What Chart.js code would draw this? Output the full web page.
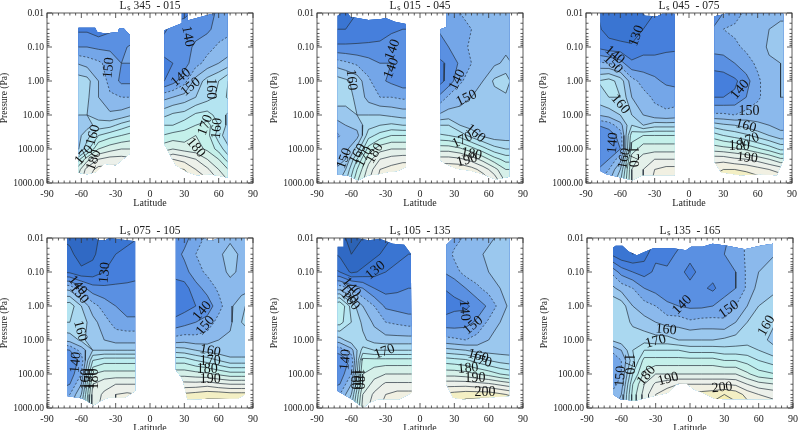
<!DOCTYPE html>
<html>
<head>
<meta charset="utf-8">
<title>Temperature sections</title>
<script src="https://cdn.jsdelivr.net/npm/chart.js@4"></script>
<style>
  html, body { margin: 0; background: #fff; overflow: hidden; width: 800px; height: 430px; }
  canvas { position: absolute; }
</style>
</head>
<body>
<script>
// shared axes
const pressures = [0.01, 0.03, 0.1, 0.3, 1, 3, 10, 20, 40, 100, 200, 400, 1000];
const latTicks = [-90, -60, -30, 0, 30, 60, 90];
const pressureTicks = [0.01, 0.1, 1, 10, 100, 1000];
const levels = [120, 125, 130, 135, 140, 145, 150, 155, 160, 165, 170, 175, 180, 185, 190, 195, 200, 205];
const bandColors = ['#2c63b6', '#3069c4', '#3a75d2', '#467fdc', '#5a90e2', '#74a6e8', '#8bb9ec', '#9bc8ee', '#aad8f0', '#b4e4f1', '#bcedf0', '#c4f0ea', '#d6f0e9', '#e4f0ea', '#ecf0ea', '#f1f0e2', '#f3efc4', '#f5eeb0', '#f6eea0'];

// L 345 - 015
const lats1S = [-65, -55, -45, -35, -25, -15];
const temps1S = [
  [132,134,140,150,158,160,155,150,152,152,165,175,180],
  [132,134,140,148,157,156,155,153,158,163,178,187,190],
  [132,132,139,146,150,150,153,157,165,175,185,192,195],
  [132,134,139,143,143,146,151,158,168,178,187,192,195],
  [132,136,139,140,139,145,152,162,170,180,187,192,195],
  [132,136,141,140,139,145,155,165,172,180,186,190,192]
];
const edge1S = [[-62.5,.027],[-48,.027],[-46,.036],[-39,.04],[-28,.036],[-27,.028],[-23,.028],[-17.5,.044],[-17.5,135],[-30,302],[-40,270],[-47,473],[-55,550],[-62.5,500]];
const lats1N = [10, 20, 30, 40, 50, 60, 70];
const temps1N = [
  [134,134,136,134,134,148,158,165,170,178,186,192,196],
  [134,136,136,135,138,150,161,165,172,180,190,196,200],
  [134,137,138,138,143,152,162,168,172,178,188,195,200],
  [136,138,141,143,152,155,166,170,175,177,185,190,195],
  [138,139,143,147,157,158,167,172,172,174,180,186,192],
  [141,142,146,150,160,161,163,165,162,168,175,180,186],
  [142,144,147,153,166,167,158,157,156,160,166,174,180]
];
const edge1N = [[12.6,.032],[27.8,.02],[27.8,.01],[32.7,.01],[32.7,.0165],[57,.01],[67.6,.01],[67.6,690],[52.7,550],[41.3,590],[32.7,480],[22.6,300],[18.3,170],[12.6,72]];
const tags1 = [['150',-36,.41,-85],['160',-49.6,39,-75],['170',-57.6,150,-50],['180',-49,214,-70],['140',33,.049,80],['140',27,.78,-40],['150',35.5,1.5,-40],['160',52.7,1.7,90],['170',48.4,20,-70],['160',58.5,25,-85],['180',40,91,50]];

// L 015 - 045
const lats2S = [-75, -65, -55, -45, -35, -25, -15, -10];
const temps2S = [
  [128,130,136,148,158,158,152,146,144,146,148,150,152],
  [128,130,136,146,156,157,153,150,146,148,150,155,160],
  [130,131,136,144,153,154,155,152,148,157,165,170,175],
  [131,132,136,142,146,148,155,158,163,172,178,182,185],
  [132,133,136,140,141,145,155,160,167,178,185,190,192],
  [133,134,138,140,139,145,154,161,170,180,187,192,195],
  [134,135,139,139,137,144,153,160,170,180,188,194,196],
  [134,135,139,139,137,144,153,160,170,180,188,194,196]
];
const edge2S = [[-72,.012],[-68.8,.01],[-63,.01],[-61,.013],[-45,.016],[-34,.015],[-30,.014],[-22,.018],[-12.3,.021],[-12.3,340],[-19.5,445],[-28,473],[-36.7,550],[-45,590],[-54,830],[-62.5,617],[-72,560]];
const lats2N = [15, 25, 35, 45, 55, 65, 75, 80];
const temps2N = [
  [139,140,138,133,132,140,150,160,166,178,187,194,197],
  [142,142,140,136,137,146,152,160,165,178,187,194,200],
  [145,144,143,141,144,149,151,155,163,176,186,194,200],
  [145,145,146,145,148,150,151,153,158,172,183,192,198],
  [146,146,147,146,150,152,151,151,154,167,178,188,195],
  [148,147,148,149,156,153,152,150,152,162,172,182,190],
  [148,148,149,151,158,154,151,150,152,160,168,175,180],
  [148,148,149,150,154,152,151,150,152,160,168,175,180]
];
const edge2N = [[17.8,.03],[23,.026],[23,.01],[78,.01],[78,660],[66.5,790],[55,550],[43.5,426],[32,380],[22,270],[17.8,214]];
const tags2 = [['140',-24,.12,-70],['140',-25,.42,-70],['160',-60,.93,85],['150',-66,190,-70],['160',-54.4,140,-60],['170',-48.7,170,-60],['180',-39.5,135,-60],['140',32.7,.93,-65],['150',40.7,3.2,-25],['160',48.4,35,40],['170',37,55,-25],['180',45,140,10],['190',41,214,-15]];

// L 045 - 075
const lats3S = [-80, -70, -60, -50, -40, -30, -20, -10];
const temps3S = [
  [130,131,134,146,160,158,150,140,136,135,136,140,145],
  [128,128,132,145,162,160,152,142,137,137,140,145,150],
  [126,126,132,142,158,160,155,148,142,140,148,155,160],
  [125,126,131,136,147,150,155,160,168,172,178,180,180],
  [128,130,133,137,143,147,150,155,170,178,182,185,185],
  [130,131,133,137,141,144,147,158,170,178,185,190,192],
  [131,132,134,137,139,143,146,158,170,178,185,192,193],
  [132,132,134,138,138,143,147,158,170,178,185,192,193]
];
const edge3S = [[-77.4,.01],[-40.7,.01],[-38,.012],[-27.8,.0125],[-23.5,.0105],[-12.6,.0105],[-12.6,590],[-40.7,590],[-49.3,830],[-72,550],[-77.4,445]];
const lats3N = [20, 30, 40, 50, 60, 70, 80, 85];
const temps3N = [
  [137,140,142,137,132,135,146,158,168,178,188,193,197],
  [140,145,142,138,132,135,146,156,165,177,188,195,200],
  [143,146,144,140,134,136,145,155,163,176,186,195,200],
  [146,147,146,143,138,140,147,153,161,174,185,194,200],
  [147,148,147,146,144,144,148,151,158,171,183,192,199],
  [148,150,151,149,148,148,148,150,155,168,180,190,195],
  [148,152,152,150,150,150,147,148,152,164,176,188,195],
  [148,152,152,150,150,150,147,148,152,164,176,188,195]
];
const edge3N = [[22.3,.0125],[32.3,.0105],[82.4,.0105],[82.4,214],[76.7,590],[62.3,550],[45,590],[28,480],[22.3,240]];
const tags3 = [['130',-45.8,.047,-70],['140',-65,.17,40],['150',-66.5,.32,45],['160',-60,4.8,50],['140',-66.5,66,-85],['160',-56.4,190,-80],['170',-49,170,90],['140',44.4,1.8,-50],['150',52.4,7.9,0],['160',49.6,21,15],['170',52.4,55,-20],['180',43.8,83,0],['190',51,182,5]];

// L 075 - 105
const lats4S = [-80, -70, -60, -50, -40, -30, -20, -10];
const temps4S = [
  [125,127,130,150,162,160,150,138,135,135,138,142,146],
  [124,126,129,148,163,160,152,140,136,137,140,145,150],
  [122,123,126,142,155,158,156,147,142,145,150,155,160],
  [123,124,127,137,147,152,153,155,165,175,180,182,182],
  [127,128,130,136,143,147,150,155,168,177,183,186,188],
  [129,130,132,136,140,143,148,155,168,177,185,190,190],
  [129,131,133,136,136,142,148,155,168,177,185,191,192],
  [130,131,134,136,136,142,148,155,168,177,185,190,191]
];
const edge4S = [[-72.5,.01],[-47.6,.01],[-45,.0117],[-39,.0117],[-36,.01],[-13,.0125],[-13,316],[-21.8,490],[-36,490],[-43,617],[-49,830],[-59,525],[-72.5,445]];
const lats4N = [20, 30, 40, 50, 60, 70, 80, 85];
const temps4N = [
  [135,137,137,132,132,136,147,158,168,178,187,195,198],
  [138,141,138,133,133,138,148,157,168,178,187,196,200],
  [143,145,143,138,135,140,147,155,165,177,187,197,203],
  [146,147,146,142,137,142,148,153,163,176,188,198,204],
  [148,149,148,146,143,147,150,152,160,174,186,198,204],
  [149,152,151,148,149,149,151,151,157,172,185,197,205],
  [148,149,149,148,153,155,151,151,157,172,185,197,203],
  [148,149,149,148,156,157,151,151,157,172,185,197,203]
];
const edge4N = [[22.6,.01],[47,.01],[51,.0117],[55.6,.0117],[60,.01],[83,.01],[83,400],[77,525],[32.7,550],[28.4,140],[22.6,76]];
const tags4 = [['130',-39.5,.105,-85],['140',-63.3,.25,50],['150',-62,.44,50],['160',-61,5.4,75],['140',-64.8,46,-85],['160',-55.6,140,-90],['170',-52,140,-90],['180',-49,140,-90],['140',45.6,1.4,-50],['150',48.4,3.8,-50],['160',52.7,21,10],['170',52.7,41,0],['180',50,72,0],['190',52.7,141,0]];

// L 105 - 135
const lats5S = [-80, -70, -60, -50, -40, -30, -20, -10, -5];
const temps5S = [
  [125,127,132,148,168,168,150,140,135,135,138,142,146],
  [122,124,130,148,170,167,153,142,137,137,140,145,150],
  [118,120,124,144,158,160,158,148,141,145,150,155,160],
  [120,122,126,140,150,154,156,162,172,175,176,180,182],
  [122,124,128,135,145,149,153,160,172,178,182,186,188],
  [124,126,130,133,139,145,152,160,172,180,186,190,192],
  [126,128,132,134,138,144,152,160,172,180,186,192,195],
  [128,130,133,135,137,143,152,160,172,180,186,192,195],
  [128,130,133,135,137,143,152,160,172,180,186,192,195]
];
const edge5S = [[-72,.018],[-66.8,.018],[-66.8,.01],[-54,.01],[-45,.0117],[-35,.0105],[-23.8,.0147],[-13.8,.0157],[-8,.029],[-7.2,355],[-18,550],[-36.7,550],[-44,690],[-49.6,980],[-59.6,550],[-72,316]];
const lats5N = [20, 30, 40, 50, 60, 70, 80];
const temps5N = [
  [138,141,140,135,132,137,147,157,168,178,188,196,200],
  [143,146,143,136,134,137,146,156,167,178,188,197,202],
  [146,148,147,140,134,138,145,155,166,177,188,198,204],
  [147,149,148,144,137,141,147,153,163,175,187,198,205],
  [149,151,150,147,141,146,150,153,160,173,186,198,205],
  [151,152,152,150,147,150,152,153,158,170,184,196,204],
  [152,152,152,152,152,152,152,153,157,168,182,194,202]
];
const edge5N = [[23,.016],[28.6,.0105],[78,.01],[78,445],[37.8,550],[29,500],[23,200]];
const tags5 = [['130',-39,.09,-40],['140',-60,.28,50],['150',-62,.44,50],['160',-61,.69,50],['140',-65,38,-85],['160',-57,141,90],['180',-54,141,90],['170',-31,22,-20],['140',38.7,1.35,85],['150',46.4,3.7,-40],['160',50.7,30,15],['170',53.6,41,15],['180',42,68,-5],['190',48,135,0],['200',56.7,355,0]];

// L 135 - 165
const lats6 = [-70, -60, -50, -40, -30, -20, -10, 0, 10, 20, 30, 40, 50, 60, 75];
const temps6 = [
  [128,130,145,152,160,160,155,145,142,140,142,145,148],
  [125,126,138,148,158,158,158,150,145,145,147,150,152],
  [124,125,135,145,150,154,158,160,158,165,170,172,172],
  [128,128,133,140,147,152,158,165,172,176,180,182,182],
  [130,134,136,138,145,150,157,165,172,180,186,190,190],
  [132,133,136,137,141,148,157,165,172,180,188,193,193],
  [133,136,136,136,140,148,155,165,172,180,190,195,197],
  [136,136,134,136,139,146,155,163,172,180,190,196,198],
  [136,136,136,136,139,147,155,163,172,180,190,197,199],
  [136,137,137,134,140,147,155,163,172,180,190,198,202],
  [139,140,139,138,142,146,156,162,170,180,190,200,203],
  [142,142,140,140,145,150,157,162,170,180,189,198,202],
  [146,146,146,146,150,155,158,162,168,176,185,193,198],
  [148,148,150,152,155,157,157,160,165,172,182,190,195],
  [148,150,152,154,158,155,153,156,162,170,180,188,193]
];
const edge6 = [[-67.3,.0195],[-65,.017],[-59,.017],[-53.6,.025],[-46.4,.032],[-39,.025],[-32,.02],[-15,.02],[-3.4,.023],[1,.018],[11,.018],[19.5,.0148],[31,.0165],[48,.0215],[62.5,.0165],[72.5,.0148],[72.5,550],[22.3,540],[11,355],[3.7,285],[-3.4,190],[-12,200],[-19,355],[-38,500],[-48,617],[-60.7,550],[-67.3,400]];
const tags6 = [['140',-6.9,.93,-45],['150',33.8,1.26,-35],['160',66.8,3.8,-60],['160',-21,5,5],['170',-30,11,-15],['180',-38,112,-50],['190',-19,141,-15],['200',28,251,-5],['150',-60.7,117,-85],['170',-53.6,51,90]];

const panels = [
  { title: 'Lₛ 345  - 015', left: 0, top: 0, parts: [[lats1S, temps1S, edge1S], [lats1N, temps1N, edge1N]], tags: tags1 },
  { title: 'Lₛ 015  - 045', left: 270, top: 0, parts: [[lats2S, temps2S, edge2S], [lats2N, temps2N, edge2N]], tags: tags2 },
  { title: 'Lₛ 045  - 075', left: 539, top: 0, parts: [[lats3S, temps3S, edge3S], [lats3N, temps3N, edge3N]], tags: tags3 },
  { title: 'Lₛ 075  - 105', left: 0, top: 225, parts: [[lats4S, temps4S, edge4S], [lats4N, temps4N, edge4N]], tags: tags4 },
  { title: 'Lₛ 105  - 135', left: 270, top: 225, parts: [[lats5S, temps5S, edge5S], [lats5N, temps5N, edge5N]], tags: tags5 },
  { title: 'Lₛ 135  - 165', left: 540, top: 225, parts: [[lats6, temps6, edge6]], tags: tags6 }
];

const SERIF = '"Liberation Serif", serif';
const logP = pressures.map(p => Math.log10(p));

// where a level crosses between two grid corners
function crossing(a, b, level) {
  const t = (level - a.t) / (b.t - a.t);
  return { x: a.x + (b.x - a.x) * t, y: a.y + (b.y - a.y) * t };
}

function gridCells(lats, temps) {
  const cells = [];
  for (let i = 0; i < lats.length - 1; i++) {
    for (let j = 0; j < logP.length - 1; j++) {
      const c = (a, b) => ({ x: lats[a], y: logP[b], t: temps[a][b], key: a + '_' + b });
      cells.push([c(i, j), c(i + 1, j), c(i + 1, j + 1), c(i, j + 1)]);
    }
  }
  return cells;
}

// contour polylines for one level, chained so dashes run along the line
function contourLines(lats, temps, level) {
  const segs = [];
  gridCells(lats, temps).forEach(cell => {
    const pts = [];
    for (let k = 0; k < 4; k++) {
      const a = cell[k], b = cell[(k + 1) % 4];
      if ((a.t >= level) !== (b.t >= level)) {
        const p = crossing(a, b, level);
        p.key = [a.key, b.key].sort().join('|');
        pts.push(p);
      }
    }
    if (pts.length === 2) segs.push([pts[0], pts[1]]);
    if (pts.length === 4) { segs.push([pts[0], pts[1]]); segs.push([pts[2], pts[3]]); }
  });
  const byKey = {};
  segs.forEach(s => s.forEach(p => { (byKey[p.key] = byKey[p.key] || []).push(s); }));
  const lines = [];
  const used = new Set();
  // open ends first, then the closed loops
  const starts = segs.filter(s => byKey[s[0].key].length === 1).concat(segs.filter(s => byKey[s[1].key].length === 1).map(s => [s[1], s[0], s])).concat(segs);
  starts.forEach(item => {
    const first = item[2] || item;
    if (used.has(first)) return;
    used.add(first);
    const line = [item[0], item[1]];
    while (true) {
      const last = line[line.length - 1];
      const next = byKey[last.key].find(s => !used.has(s));
      if (!next) break;
      used.add(next);
      line.push(next[0].key === last.key ? next[1] : next[0]);
    }
    lines.push(line);
  });
  return lines;
}

function buildDatasets(panel) {
  const sets = [];
  levels.forEach(level => {
    const data = [];
    panel.parts.forEach(part => {
      contourLines(part[0], part[1], level).forEach(line => {
        line.forEach(p => data.push({ x: p.x, y: Math.pow(10, p.y) }));
        data.push({ x: null, y: null });
      });
    });
    sets.push({
      label: String(level),
      data: data,
      showLine: true,
      pointRadius: 0,
      borderWidth: 0.7,
      borderColor: '#26323e',
      borderDash: level === 145 ? [2, 2] : [],
      spanGaps: false
    });
  });
  return sets;
}

// filled bands, clipped to the area that has data
const bandPlugin = {
  id: 'bands',
  beforeDatasetsDraw(chart, args, opts) {
    const ctx = chart.ctx;
    const sx = chart.scales.x, sy = chart.scales.y;
    const px = p => [sx.getPixelForValue(p.x), sy.getPixelForValue(Math.pow(10, p.y))];
    ctx.save();
    ctx.beginPath();
    opts.panel.parts.forEach(part => {
      part[2].forEach((pt, i) => {
        const x = sx.getPixelForValue(pt[0]), y = sy.getPixelForValue(pt[1]);
        if (i === 0) ctx.moveTo(x, y); else ctx.lineTo(x, y);
      });
      ctx.closePath();
    });
    ctx.clip();
    opts.panel.parts.forEach(part => {
      const cells = gridCells(part[0], part[1]);
      [0].concat(levels).forEach((level, n) => {
        ctx.beginPath();
        cells.forEach(cell => {
          const poly = [];
          for (let k = 0; k < 4; k++) {
            const a = cell[k], b = cell[(k + 1) % 4];
            if (a.t >= level) poly.push(a);
            if ((a.t >= level) !== (b.t >= level)) poly.push(crossing(a, b, level));
          }
          poly.forEach((p, i) => {
            const q = px(p);
            if (i === 0) ctx.moveTo(q[0], q[1]); else ctx.lineTo(q[0], q[1]);
          });
          if (poly.length) ctx.closePath();
        });
        ctx.fillStyle = bandColors[n];
        ctx.fill();
      });
    });
  },
  afterDatasetsDraw(chart, args, opts) {
    const ctx = chart.ctx;
    ctx.restore();
    const sx = chart.scales.x, sy = chart.scales.y;
    ctx.save();
    ctx.fillStyle = '#111';
    ctx.font = '14px ' + SERIF;
    ctx.textAlign = 'center';
    ctx.textBaseline = 'middle';
    opts.panel.tags.forEach(tag => {
      ctx.save();
      ctx.translate(sx.getPixelForValue(tag[1]), sy.getPixelForValue(tag[2]));
      ctx.rotate(tag[3] * Math.PI / 180);
      ctx.fillText(tag[0], 0, 0);
      ctx.restore();
    });
    ctx.restore();
  }
};

// frame with inward ticks on all four sides
const framePlugin = {
  id: 'frame',
  afterDraw(chart) {
    const ctx = chart.ctx, a = chart.chartArea;
    const sx = chart.scales.x, sy = chart.scales.y;
    ctx.save();
    ctx.strokeStyle = '#333';
    ctx.lineWidth = 0.8;
    ctx.strokeRect(a.left, a.top, a.right - a.left, a.bottom - a.top);
    ctx.beginPath();
    for (let lat = -90; lat <= 90; lat += 5) {
      const x = sx.getPixelForValue(lat);
      const len = lat % 30 === 0 ? 5 : 2.5;
      ctx.moveTo(x, a.bottom); ctx.lineTo(x, a.bottom - len);
      ctx.moveTo(x, a.top); ctx.lineTo(x, a.top + len);
    }
    for (let e = -2; e <= 3; e++) {
      for (let m = 1; m <= 9; m++) {
        if (e === 3 && m > 1) break;
        const y = sy.getPixelForValue(m * Math.pow(10, e));
        const len = m === 1 ? 5 : 2.5;
        ctx.moveTo(a.left, y); ctx.lineTo(a.left + len, y);
        ctx.moveTo(a.right, y); ctx.lineTo(a.right - len, y);
      }
    }
    ctx.stroke();
    ctx.restore();
  }
};

panels.forEach(panel => {
  const canvas = document.createElement('canvas');
  canvas.width = 263;
  canvas.height = 208;
  canvas.style.left = panel.left + 'px';
  canvas.style.top = panel.top + 'px';
  document.body.appendChild(canvas);

  new Chart(canvas.getContext('2d'), {
    type: 'scatter',
    data: { datasets: buildDatasets(panel) },
    plugins: [bandPlugin, framePlugin],
    options: {
      responsive: false,
      animation: false,
      events: [],
      layout: { padding: { left: 0, right: 6, top: 0, bottom: 0 } },
      plugins: {
        legend: { display: false },
        tooltip: { enabled: false },
        title: {
          display: true,
          fullSize: false,
          text: panel.title,
          color: '#222',
          font: { family: SERIF, size: 11.5, weight: 'normal', lineHeight: 1 },
          padding: { top: 0, bottom: 1.5 }
        },
        bands: { panel: panel }
      },
      scales: {
        x: {
          type: 'linear',
          min: -90,
          max: 90,
          afterFit(s) { s.height = 25; },
          grid: { display: false, drawTicks: false },
          border: { display: false },
          ticks: {
            stepSize: 30,
            autoSkip: false,
            maxRotation: 0,
            padding: 5,
            color: '#222',
            font: { family: SERIF, size: 10 },
            callback: v => latTicks.includes(v) ? String(v) : ''
          },
          title: { display: true, text: 'Latitude', color: '#222', font: { family: SERIF, size: 10, lineHeight: 1 }, padding: 0 }
        },
        y: {
          type: 'logarithmic',
          reverse: true,
          min: 0.01,
          max: 1000,
          afterFit(s) { s.width = 47; },
          afterBuildTicks(s) { s.ticks = pressureTicks.map(v => ({ value: v })); },
          grid: { display: false, drawTicks: false },
          border: { display: false },
          ticks: {
            autoSkip: false,
            padding: 3,
            color: '#222',
            font: { family: SERIF, size: 9.5 },
            callback: v => v.toFixed(2)
          },
          title: { display: true, text: 'Pressure (Pa)', color: '#222', font: { family: SERIF, size: 9.5, lineHeight: 1 }, padding: 0 }
        }
      }
    }
  });
});
</script>
</body>
</html>
